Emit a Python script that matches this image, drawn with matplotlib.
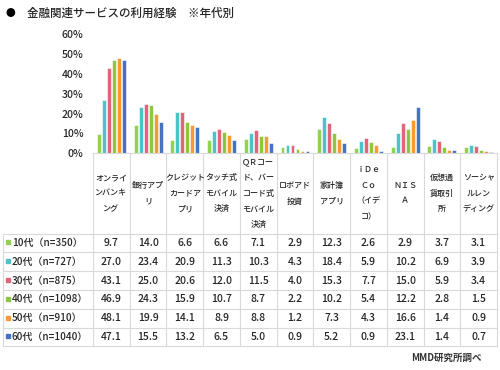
import matplotlib.pyplot as plt
import numpy as np

plt.rcParams['font.family'] = ['Noto Sans CJK JP', 'DejaVu Sans']

# カテゴリ（表の見出し、改行込み）
categories = [
    'オンライ\nンバンキ\nング',
    '銀行アプ\nリ',
    'クレジット\nカードア\nプリ',
    'タッチ式\nモバイル\n決済',
    'ＱＲコー\nド、バー\nコード式\nモバイル\n決済',
    'ロボアド\n投資',
    '家計簿\nアプリ',
    'ｉＤｅ\nＣｏ\n（イデ\nコ）',
    'ＮＩＳ\nＡ',
    '仮想通\n貨取引\n所',
    'ソーシャ\nルレン\nディング',
]

age_labels = ['10代（n=350）', '20代（n=727）', '30代（n=875）',
              '40代（n=1098）', '50代（n=910）', '60代（n=1040）']

vals_10 = [9.7, 14.0, 6.6, 6.6, 7.1, 2.9, 12.3, 2.6, 2.9, 3.7, 3.1]
vals_20 = [27.0, 23.4, 20.9, 11.3, 10.3, 4.3, 18.4, 5.9, 10.2, 6.9, 3.9]
vals_30 = [43.1, 25.0, 20.6, 12.0, 11.5, 4.0, 15.3, 7.7, 15.0, 5.9, 3.4]
vals_40 = [46.9, 24.3, 15.9, 10.7, 8.7, 2.2, 10.2, 5.4, 12.2, 2.8, 1.5]
vals_50 = [48.1, 19.9, 14.1, 8.9, 8.8, 1.2, 7.3, 4.3, 16.6, 1.4, 0.9]
vals_60 = [47.1, 15.5, 13.2, 6.5, 5.0, 0.9, 5.2, 0.9, 23.1, 1.4, 0.7]

colors = ['#92D050', '#4BC3C8', '#E2647A', '#8DC63F', '#F79A32', '#4472C4']

series = [vals_10, vals_20, vals_30, vals_40, vals_50, vals_60]
n = len(categories)
grid_c = '#D9D9D9'
txt_c = '#262626'
wt = 'medium'

fig = plt.figure(figsize=(5, 3.7), dpi=100)

# 表（ピクセル座標のオーバーレイ）
tab = fig.add_axes([0, 0, 1, 1])
tab.set_xlim(0, 500)
tab.set_ylim(370, 0)
tab.axis('off')

x0, x1 = 93, 497
cw = (x1 - x0) / n
y_axis = 153
y_head = 233.5
rh = 18.8
y_bot = y_head + rh * len(series)

for k in range(n + 1):
    tab.plot([x0 + k * cw] * 2, [y_axis, y_bot], color=grid_c, lw=0.8)
tab.plot([3, 3], [y_head, y_bot], color=grid_c, lw=0.8)
for r in range(len(series) + 1):
    tab.plot([3, x1], [y_head + r * rh] * 2, color=grid_c, lw=0.8)

for i, cat in enumerate(categories):
    tab.text(x0 + (i + 0.5) * cw, (y_axis + y_head) / 2, cat, ha='center',
             va='center', fontsize=5.8, linespacing=1.95, color=txt_c,
             fontweight=wt)

for r, (lab, vals, c) in enumerate(zip(age_labels, series, colors)):
    yc = y_head + (r + 0.5) * rh
    tab.add_patch(plt.Rectangle((6, yc - 2.5), 4, 4, color=c))
    tab.text(12, yc, lab, ha='left', va='center', fontsize=7.2, color=txt_c,
             fontweight=wt)
    for i, v in enumerate(vals):
        tab.text(x0 + (i + 0.5) * cw, yc, f'{v:.1f}', ha='center',
                 va='center', fontsize=7.5, color=txt_c, fontweight=wt)

# 棒グラフ
ax = fig.add_axes([x0 / 500, 1 - y_axis / 370, (x1 - x0) / 500, 118.5 / 370])
x = np.arange(n) + 0.5
slot = 0.136
for j, (vals, c) in enumerate(zip(series, colors)):
    ax.bar(x + (j - 2.5) * slot, vals, width=0.105, color=c,
           edgecolor='white', linewidth=0.4)

ax.set_xlim(0, n)
ax.set_ylim(0, 60)
ax.set_yticks(range(0, 70, 10))
ax.set_yticklabels([f'{v}%' for v in range(0, 70, 10)], fontsize=7.5,
                   color=txt_c, fontweight=wt)
ax.tick_params(axis='y', length=0, pad=7)
ax.set_xticks([])
for s in ['top', 'right', 'left']:
    ax.spines[s].set_visible(False)
ax.spines['bottom'].set_color(grid_c)
ax.patch.set_alpha(0)

fig.text(5 / 500, 1 - 13 / 370, '●', fontsize=7, va='center', color='black')
fig.text(27 / 500, 1 - 13 / 370, '金融関連サービスの利用経験　※年代別',
         fontsize=8.3, va='center', color=txt_c, fontweight=wt)
fig.text(482 / 500, 1 - 358 / 370, 'MMD研究所調べ', fontsize=6.8,
         ha='right', va='center', color='#333333', fontweight='bold')

fig.savefig('out.png', dpi=100)
